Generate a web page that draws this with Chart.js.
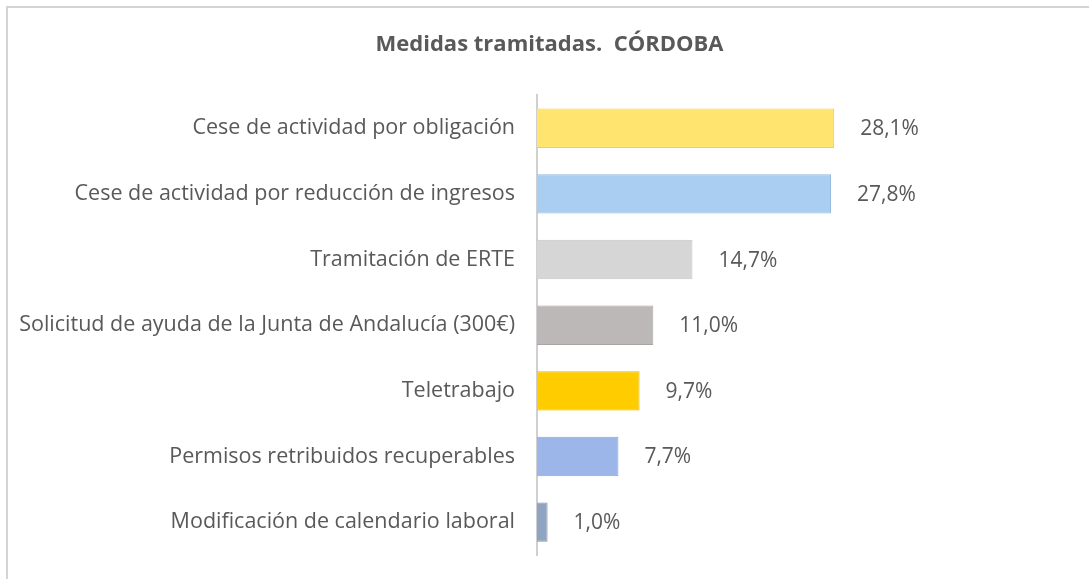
<!DOCTYPE html>
<html>
<head>
<meta charset="utf-8">
<script src="https://cdn.jsdelivr.net/npm/chart.js@4"></script>
<style>
  html, body { margin: 0; padding: 0; background: #ffffff; }
  #wrap { position: relative; width: 1089px; height: 579px; overflow: hidden; }
  #frame { position: absolute; left: 6px; top: 6px; width: 1100px; height: 600px;
           border-top: 2px solid #d4d4d4; border-left: 2px solid #d4d4d4; box-sizing: border-box; }
  canvas { position: absolute; left: 0; top: 0; }
</style>
</head>
<body>
<div id="wrap">
  <div id="frame"></div>
  <canvas id="c" width="1089" height="579"></canvas>
</div>
<script>
const titleText = "Medidas tramitadas.  CÓRDOBA";
const categories = [
  "Cese de actividad por obligación",
  "Cese de actividad por reducción de ingresos",
  "Tramitación de ERTE",
  "Solicitud de ayuda de la Junta de Andalucía (300€)",
  "Teletrabajo",
  "Permisos retribuidos recuperables",
  "Modificación de calendario laboral"
];
const values = [28.1, 27.8, 14.7, 11.0, 9.7, 7.7, 1.0];
const fillColors = ["#FFE570", "#A9CEF2", "#D6D6D6", "#BDB8B8", "#FFCC00", "#9CB6EA", "#8FA4C0"];
const borderColors = ["#E6CF66", "#95B9DC", "#C4C4C4", "#A9A5A5", "#E6B800", "#8AA3D3", "#7F93AD"];

const FONT = "'Open Sans', 'Segoe UI', 'DejaVu Sans', sans-serif";
const TEXT = "#595959";

const valueLabels = {
  id: "valueLabels",
  afterDatasetsDraw(chart) {
    const ctx = chart.ctx;
    const meta = chart.getDatasetMeta(0);
    ctx.save();
    ctx.font = "21px " + FONT;
    ctx.fillStyle = TEXT;
    ctx.textAlign = "left";
    ctx.textBaseline = "middle";
    meta.data.forEach((bar, i) => {
      const txt = values[i].toFixed(1).replace(".", ",") + "%";
      ctx.fillText(txt, bar.x + 26, bar.y + 1);
    });
    ctx.restore();
  }
};

new Chart(document.getElementById("c"), {
  type: "bar",
  data: {
    labels: categories,
    datasets: [{
      data: values,
      backgroundColor: fillColors,
      borderColor: borderColors,
      borderWidth: 1,
      borderSkipped: "left",
      barPercentage: 0.6,
      categoryPercentage: 1.0
    }]
  },
  options: {
    indexAxis: "y",
    responsive: false,
    animation: false,
    layout: { padding: { left: 10, right: 0, top: 0, bottom: 24 } },
    plugins: {
      legend: { display: false },
      tooltip: { enabled: false },
      title: {
        display: true,
        text: titleText,
        color: TEXT,
        font: { family: FONT, size: 22, weight: "bold" },
        padding: { top: 32, bottom: 37 }
      }
    },
    scales: {
      x: {
        display: false,
        min: 0,
        max: 52.2
      },
      y: {
        afterFit: (s) => { s.width = 527; s.paddingTop = 0; s.paddingBottom = 0; },
        grid: { display: false, drawTicks: false },
        border: { display: true, color: "#d0d0d0", width: 2 },
        ticks: {
          color: TEXT,
          font: { family: FONT, size: 21.5 },
          padding: 22
        }
      }
    }
  },
  plugins: [valueLabels]
});
</script>
</body>
</html>
